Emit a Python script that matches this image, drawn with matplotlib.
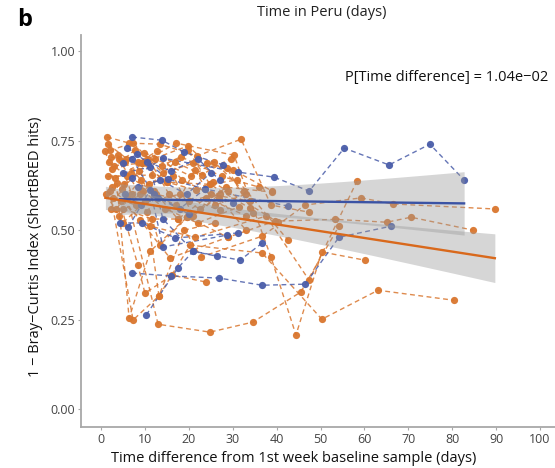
import numpy as np
import matplotlib
matplotlib.use("Agg")
import matplotlib.pyplot as plt

plt.rcParams['font.family'] = ['Open Sans', 'DejaVu Sans']

# ---------------- data ----------------
# Blue group: each subject is a (days, similarity) trajectory
blue_x = [
    [7.1, 14.1, 31.2, 39.4, 47.4, 55.4, 65.6, 74.9, 82.7],
    [7.1, 13.9, 18.9, 27.8],
    [5.0, 8.2, 15.3, 23.7, 42.6],
    [5.0, 11.2, 14.1, 21.0, 26.4],
    [7.1, 15.9, 26.9, 36.7, 46.5, 54.2, 66.1],
    [10.3, 17.5, 21.0, 31.7, 36.7],
    [4.3, 9.3, 16.9, 31.2],
    [6.2, 11.2, 14.1, 28.7],
    [7.1, 12.0, 18.0, 23.7, 30.0],
    [5.5, 9.0, 13.0, 20.0],
    [6.0, 10.5, 16.0, 22.0, 27.0],
    [8.5, 13.5, 19.5, 25.0],
]
blue_y = [
    [0.645, 0.701, 0.662, 0.648, 0.609, 0.729, 0.682, 0.740, 0.640],
    [0.760, 0.751, 0.718, 0.682],
    [0.687, 0.712, 0.642, 0.615, 0.567],
    [0.659, 0.676, 0.531, 0.441, 0.427],
    [0.380, 0.372, 0.366, 0.346, 0.349, 0.480, 0.511],
    [0.263, 0.394, 0.441, 0.416, 0.464],
    [0.520, 0.520, 0.478, 0.492],
    [0.508, 0.612, 0.453, 0.486],
    [0.698, 0.600, 0.560, 0.615, 0.575],
    [0.600, 0.570, 0.590, 0.545],
    [0.730, 0.690, 0.665, 0.700, 0.640],
    [0.620, 0.640, 0.600, 0.660],
]

orange_x = [
    [1.4, 6.4, 13.4, 21.9, 31.9, 38.7, 47.4],
    [2.3, 9.3, 15.0, 24.8, 33.9],
    [3.2, 17.1, 30.3, 38.7, 44.4, 50.3, 60.1],
    [6.0, 13.0, 24.8, 34.6, 45.5, 54.2],
    [3.6, 6.4, 11.2, 19.6, 28.9],
    [2.0, 7.3, 13.2, 20.3, 36.7, 50.3, 63.1, 80.4],
    [1.0, 8.4, 10.0, 16.2, 23.9],
    [5.0, 11.6, 17.5, 22.8, 36.7, 46.5, 59.2, 66.5, 89.7],
    [2.5, 8.9, 15.7, 28.9, 39.6, 53.3, 65.1, 70.6, 84.7],
    [4.5, 11.2, 21.4, 37.6, 47.4, 58.3],
    [2.0, 7.3, 14.1, 21.0, 30.1, 39.0],
    [3.0, 9.3, 19.8, 24.1, 28.7, 34.6],
    [1.5, 11.6, 15.0, 21.6, 25.5, 40.3],
    [4.0, 8.9, 19.8, 24.8, 31.0, 42.6],
    [5.5, 12.0, 17.1, 21.4, 26.0, 33.0],
    [1.2, 5.0, 10.0, 18.0, 27.0],
    [3.5, 9.0, 13.4, 19.6, 26.9, 33.0],
    [2.8, 8.0, 12.5, 20.0, 29.0],
    [4.2, 9.5, 14.5, 22.0, 31.5],
    [1.8, 6.0, 12.0, 17.5, 24.0, 33.0],
    [3.8, 7.0, 11.0, 16.5, 21.0, 27.0],
    [5.2, 10.5, 13.2, 19.0, 26.0],
    [2.2, 8.4, 12.8, 18.5, 25.0, 34.0],
    [6.8, 10.8, 15.5, 22.5, 28.5, 39.0],
    [1.6, 5.8, 9.8, 16.8, 23.0, 29.5],
    [2.6, 7.8, 13.8, 18.2, 27.5, 36.0],
    [4.8, 8.6, 12.2, 20.6, 25.8, 32.5],
]
orange_y = [
    [0.760, 0.743, 0.740, 0.707, 0.754, 0.570, 0.550],
    [0.704, 0.687, 0.634, 0.628, 0.561],
    [0.645, 0.743, 0.709, 0.425, 0.207, 0.439, 0.416],
    [0.590, 0.237, 0.215, 0.243, 0.327, 0.511],
    [0.631, 0.254, 0.441, 0.536, 0.480],
    [0.610, 0.249, 0.316, 0.458, 0.436, 0.251, 0.332, 0.304],
    [0.720, 0.402, 0.324, 0.374, 0.355],
    [0.560, 0.531, 0.531, 0.425, 0.483, 0.570, 0.590, 0.573, 0.559],
    [0.620, 0.528, 0.422, 0.480, 0.525, 0.530, 0.522, 0.536, 0.500],
    [0.580, 0.511, 0.480, 0.539, 0.360, 0.637],
    [0.723, 0.743, 0.659, 0.687, 0.668, 0.609],
    [0.680, 0.687, 0.735, 0.687, 0.673, 0.547],
    [0.650, 0.654, 0.634, 0.612, 0.634, 0.522],
    [0.700, 0.600, 0.723, 0.628, 0.640, 0.472],
    [0.690, 0.600, 0.570, 0.668, 0.570, 0.600],
    [0.600, 0.520, 0.580, 0.600, 0.555],
    [0.560, 0.640, 0.458, 0.536, 0.590, 0.500],
    [0.590, 0.570, 0.600, 0.580, 0.610],
    [0.540, 0.610, 0.560, 0.520, 0.565],
    [0.690, 0.650, 0.610, 0.531, 0.590, 0.540],
    [0.710, 0.600, 0.630, 0.650, 0.540, 0.600],
    [0.630, 0.550, 0.316, 0.500, 0.520],
    [0.560, 0.690, 0.720, 0.640, 0.600, 0.580],
    [0.660, 0.700, 0.600, 0.560, 0.620, 0.606],
    [0.740, 0.700, 0.715, 0.690, 0.655, 0.700],
    [0.670, 0.725, 0.680, 0.705, 0.650, 0.620],
    [0.615, 0.665, 0.700, 0.650, 0.690, 0.610],
]

# linear fits (intercept, slope) with CI half-width model
blue_fit = dict(x_range=(4.3, 82.7), intercept=0.587, slope=-0.00015,
                ci_center=22.0, ci_min=0.036, ci_scale=27.0)
orange_fit = dict(x_range=(1.0, 89.7), intercept=0.592, slope=-0.0019,
                  ci_center=22.0, ci_min=0.026, ci_scale=28.0)

x_ticks = [0, 10, 20, 30, 40, 50, 60, 70, 80, 90, 100]
y_ticks = [0.00, 0.25, 0.50, 0.75, 1.00]
y_ticklabels = ["0.00", "0.25", "0.50", "0.75", "1.00"]

title = "Time in Peru (days)"
xlabel = "Time difference from 1st week baseline sample (days)"
ylabel = "1 \u2212 Bray\u2212Curtis Index (ShortBRED hits)"
annot = "P[Time difference] = 1.04e\u221202"

BLUE = "#4A5DA9"
ORANGE = "#D9762E"
BLUE_LINE = "#3B53A4"
ORANGE_LINE = "#D9691C"

# ---------------- figure ----------------
fig = plt.figure(figsize=(5.55, 4.68), dpi=100)
ax = fig.add_axes([81/555, (468-427)/468, (555-81)/555, (427-35)/468])

for xs, ys in zip(orange_x, orange_y):
    ax.plot(xs, ys, ls=(0, (3.5, 2.5)), lw=1.0, color=ORANGE, alpha=0.85, zorder=2)
    ax.plot(xs, ys, ls='none', marker='o', ms=5.2, color=ORANGE, mec='none', alpha=0.95, zorder=3)
for xs, ys in zip(blue_x, blue_y):
    ax.plot(xs, ys, ls=(0, (3.5, 2.5)), lw=1.0, color=BLUE, alpha=0.85, zorder=2)
    ax.plot(xs, ys, ls='none', marker='o', ms=5.2, color=BLUE, mec='none', alpha=0.95, zorder=3)

for fit, col in ((blue_fit, BLUE_LINE), (orange_fit, ORANGE_LINE)):
    xx = np.linspace(fit['x_range'][0], fit['x_range'][1], 100)
    yy = fit['intercept'] + fit['slope'] * xx
    hw = fit['ci_min'] * np.sqrt(1 + ((xx - fit['ci_center']) / fit['ci_scale'])**2)
    ax.fill_between(xx, yy - hw, yy + hw, color='#999999', alpha=0.4, lw=0, zorder=4)
    ax.plot(xx, yy, color=col, lw=1.7, zorder=5)

ax.set_xlim(-4.56, 103.4)
ax.set_ylim(-0.05, 1.045)
ax.set_xticks(x_ticks)
ax.set_yticks(y_ticks)
ax.set_yticklabels(y_ticklabels)
for s in ('top', 'right'):
    ax.spines[s].set_visible(False)
for s in ('left', 'bottom'):
    ax.spines[s].set_color('#A8A8A8')
    ax.spines[s].set_linewidth(1.3)
ax.tick_params(axis='both', colors='#A8A8A8', length=2.5, width=0.8, labelsize=9,
               labelcolor='#444444', pad=1.5)
ax.tick_params(axis='x', pad=2)

fig.text(322/555, 1-12/468, title, ha='center', va='center', fontsize=10.5, color='#222222')
fig.text(25/555, 1-20/468, "b", ha='center', va='center', fontsize=17, fontweight='bold')
fig.text(294/555, 1-458/468, xlabel, ha='center', va='center', fontsize=10.5, color='#111111')
fig.text(36/555, 1-247/468, ylabel, ha='center', va='center', rotation=90, fontsize=10.5, color='#111111')
ax.text(101.8, 0.927, annot, ha='right', va='center', fontsize=10.5, color='#111111')

fig.savefig("out.png", dpi=100)
